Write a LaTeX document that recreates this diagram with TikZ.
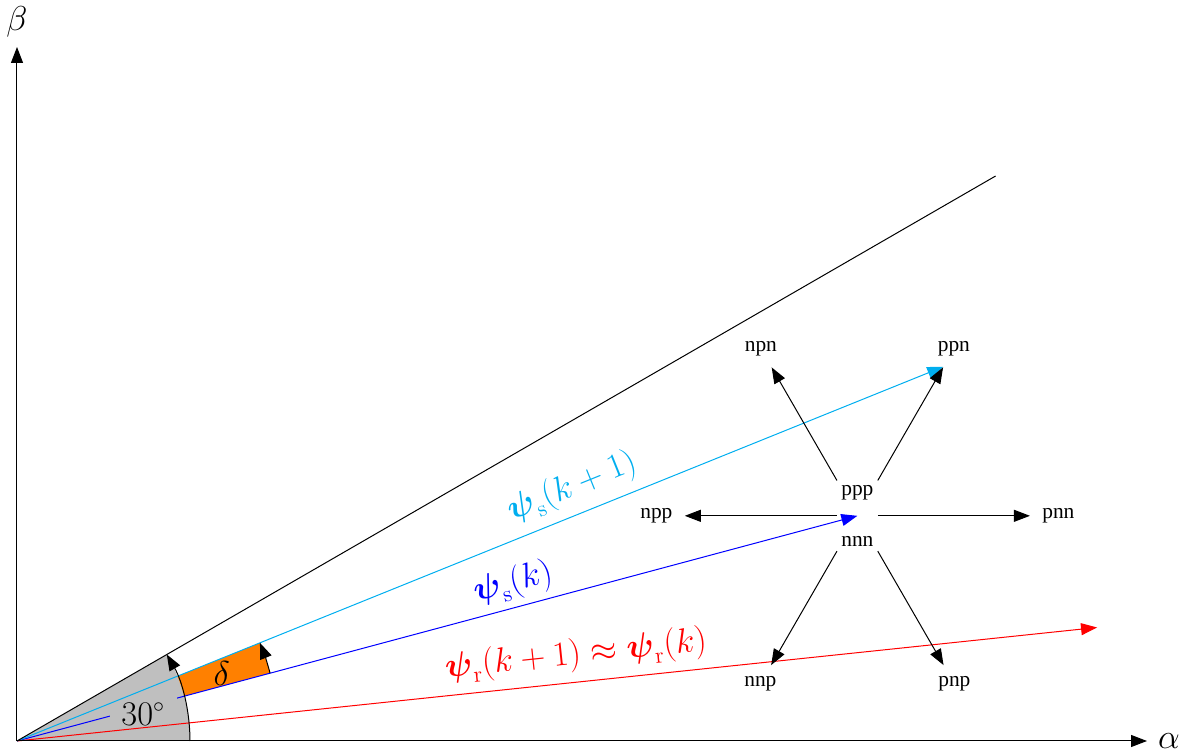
\documentclass[tikz,border=0pt]{standalone}
\usepackage{amsmath}
\usepackage{fontspec}
\newfontfamily\timesfont{Liberation Serif}
\usetikzlibrary{arrows.meta,calc}
\definecolor{mycyan}{RGB}{0,174,239}
\definecolor{wedgegray}{RGB}{191,191,191}
\definecolor{myorange}{RGB}{255,128,0}
\begin{document}
\begin{tikzpicture}[x=0.5pt,y=0.5pt,
  tip/.style={-{Triangle[length=8pt,width=6pt]}},
  vec/.style={tip, line width=0.5pt},
  mlab/.style={font=\fontsize{16.2}{20}\selectfont, inner sep=0pt},
  swlab/.style={font=\timesfont\fontsize{10.7}{13}\selectfont, inner xsep=6pt, inner ysep=5.5pt},
  hub/.style={minimum width=20pt, minimum height=35pt, inner sep=0pt},
]
\useasboundingbox (-17,-12) rectangle (1170,741);
\coordinate (O) at (0,0);
\coordinate (ax) at (1130,0);
\coordinate (ay) at (0,694);
\coordinate (lim) at (30:1130);
\coordinate (s1) at (22:999);
\coordinate (r1) at (6:1086);
% wedge and delta region
\fill[wedgegray] (O) -- (0:173) arc[start angle=0, end angle=30, radius=173] -- cycle;
\fill[myorange] (15:173) -- (15:262) arc[start angle=15, end angle=22, radius=262] -- (22:173) arc[start angle=22, end angle=15, radius=173] -- cycle;
% stator flux now
\node[hub] (c) at (15:870) {};
\draw[vec, blue] (O) -- (c.center);
\node[mlab, fill=wedgegray, inner sep=5.8pt] (l30) at (126.3,27) {$30^\circ$};
% other vectors
\draw[vec, red] (O) -- (r1);
\draw[vec, mycyan] (O) -- (s1);
\draw[line width=0.5pt] (O) -- (lim);
\draw[vec] (O) -- (ax);
\draw[vec] (O) -- (ay);
% arcs
\draw[vec] (0:173) arc[start angle=0, end angle=30, radius=173];
\draw[vec] (15:262) arc[start angle=15, end angle=22, radius=262];
% switching vectors
\node[swlab] (ppn) at ($(c)+(60:193)$) {ppn};
\node[swlab] (npn) at ($(c)+(120:193)$) {npn};
\node[swlab] (npp) at ($(c)+(180:201)$) {npp};
\node[swlab] (pnn) at ($(c)+(0:201)$) {pnn};
\node[swlab] (nnp) at ($(c)+(240:194)$) {nnp};
\node[swlab] (pnp) at ($(c)+(300:194)$) {pnp};
\node[swlab, inner sep=0pt] (ppp) at ($(c)+(0,23)$) {ppp};
\node[swlab, inner sep=0pt] (nnn) at ($(c)+(0,-26)$) {nnn};
\foreach \t in {ppn,npn,npp,pnn,nnp,pnp} \draw[vec] (c) -- (\t);
% labels
\node[mlab, mycyan, rotate=22] (ls1) at (555,254) {$\boldsymbol{\psi}_\mathrm{s}(k+1)$};
\node[mlab, blue, rotate=15] (ls0) at (496,158) {$\boldsymbol{\psi}_\mathrm{s}(k)$};
\node[mlab, red, rotate=6] (lr) at (559,86) {$\boldsymbol{\psi}_\mathrm{r}(k+1)\approx\boldsymbol{\psi}_\mathrm{r}(k)$};
\node[mlab] (ldelta) at (204.7,67.7) {$\delta$};
\node[mlab] (lalpha) at (1152,0) {$\alpha$};
\node[mlab] (lbeta) at (0,719.5) {$\beta$};
\end{tikzpicture}
\end{document}
